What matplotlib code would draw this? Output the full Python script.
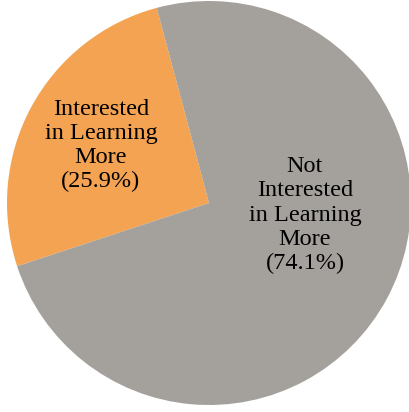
import matplotlib.pyplot as plt

labels = ["Interested\nin Learning\nMore", "Not\nInterested\nin Learning\nMore"]
shares = [25.9, 74.1]
colors = ["#F4A352", "#A4A09B"]
label_pos = [(-0.535, 0.285), (0.475, -0.06)]

fig = plt.figure(figsize=(4.09, 4.12), dpi=100)
ax = fig.add_axes([7 / 409, 7 / 412, 404 / 409, 404 / 412])
wedges, _ = ax.pie(shares, colors=colors, startangle=105, radius=1,
                   wedgeprops=dict(linewidth=0))
for w in wedges:
    w.set_clip_on(False)
for lab, val, (x, y) in zip(labels, shares, label_pos):
    ax.text(x, y, "%s\n(%.1f%%)" % (lab, val), ha="center", va="center",
            fontsize=17.5, family="Liberation Serif", linespacing=1.2)
ax.set_xlim(-1, 1)
ax.set_ylim(-1, 1)
ax.set_aspect("auto")
ax.axis("off")
fig.savefig("out.png", dpi=100)
